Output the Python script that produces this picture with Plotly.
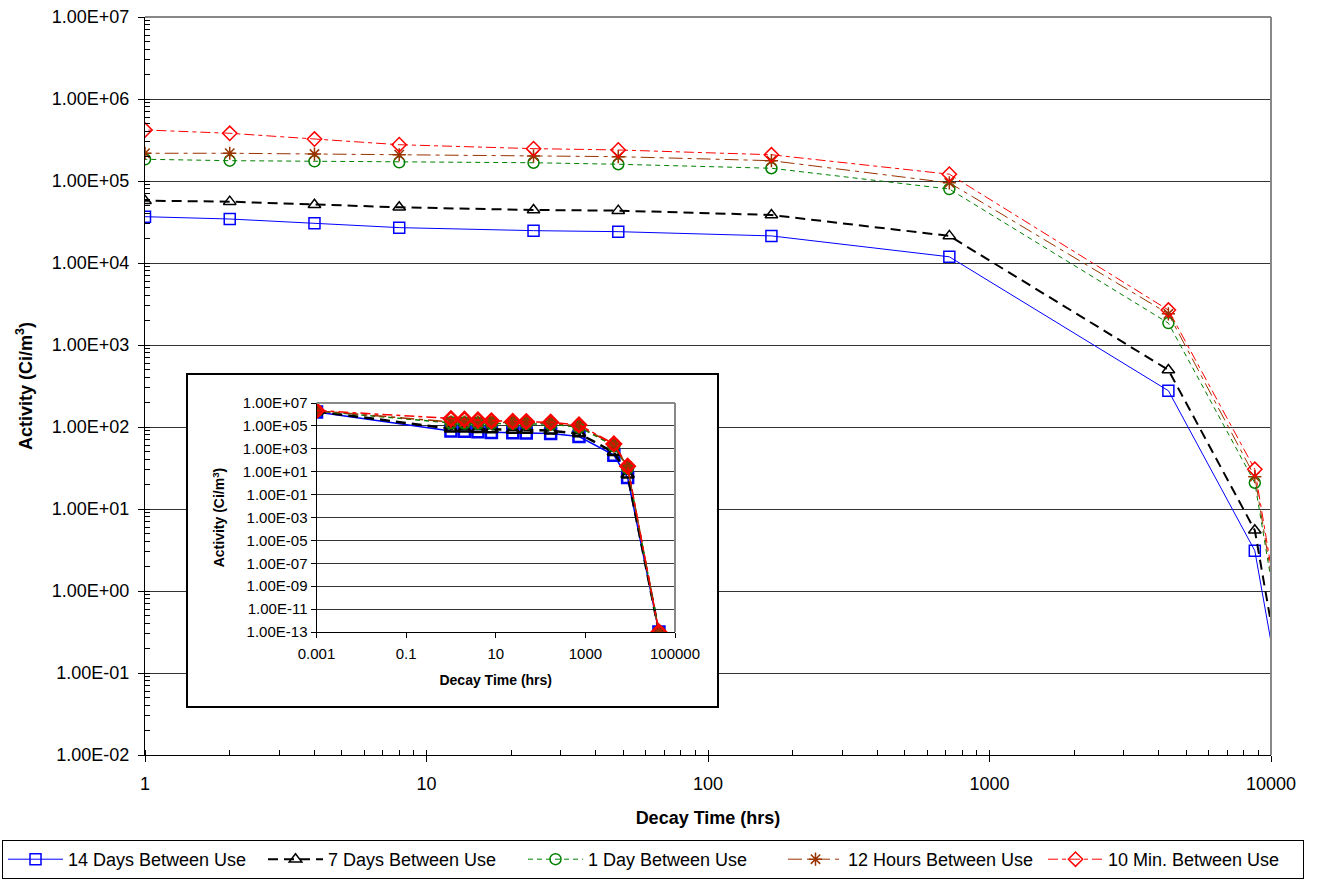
import plotly.graph_objects as go

# ---------------- data ----------------
TIME_HRS = [0.001, 1, 2, 4, 8, 24, 48, 168, 720, 4320, 8760, 43800]

DAYS_14 = [1.6e6, 3.67e4, 3.44e4, 3.05e4, 2.70e4, 2.48e4, 2.41e4, 2.14e4, 1.19e4, 277, 3.1, 1e-13]
DAYS_7 = [1.8e6, 5.75e4, 5.6e4, 5.14e4, 4.78e4, 4.43e4, 4.35e4, 3.85e4, 2.14e4, 496, 5.5, 1e-13]
DAY_1 = [2.0e6, 1.84e5, 1.77e5, 1.74e5, 1.69e5, 1.67e5, 1.60e5, 1.43e5, 7.98e4, 1.85e3, 20.9, 1e-13]
HOURS_12 = [2.1e6, 2.18e5, 2.18e5, 2.13e5, 2.09e5, 2.02e5, 1.98e5, 1.77e5, 9.5e4, 2.4e3, 24.8, 1e-13]
MIN_10 = [2.2e6, 4.19e5, 3.82e5, 3.25e5, 2.77e5, 2.48e5, 2.39e5, 2.09e5, 1.21e5, 2.67e3, 30.5, 1e-13]

SERIES_NAMES = ["14 Days Between Use", "7 Days Between Use", "1 Day Between Use",
                "12 Hours Between Use", "10 Min. Between Use"]

MAIN_X_TICKS = [1, 10, 100, 1000, 10000]
MAIN_X_LABELS = ["1", "10", "100", "1000", "10000"]
MAIN_Y_TICKS = [1e7, 1e6, 1e5, 1e4, 1e3, 1e2, 1e1, 1e0, 1e-1, 1e-2]
MAIN_Y_LABELS = ["1.00E+07", "1.00E+06", "1.00E+05", "1.00E+04", "1.00E+03",
                 "1.00E+02", "1.00E+01", "1.00E+00", "1.00E-01", "1.00E-02"]

INSET_X_TICKS = [0.001, 0.1, 10, 1000, 100000]
INSET_X_LABELS = ["0.001", "0.1", "10", "1000", "100000"]
INSET_Y_TICKS = [1e7, 1e5, 1e3, 1e1, 1e-1, 1e-3, 1e-5, 1e-7, 1e-9, 1e-11, 1e-13]
INSET_Y_LABELS = ["1.00E+07", "1.00E+05", "1.00E+03", "1.00E+01", "1.00E-01", "1.00E-03",
                  "1.00E-05", "1.00E-07", "1.00E-09", "1.00E-11", "1.00E-13"]

# ---------------- styles ----------------
STYLES = [
    dict(color="#0000FF", width=1, dash="solid", symbol="square-open"),
    dict(color="#000000", width=2, dash="10px,6px", symbol="triangle-up-open"),
    dict(color="#008000", width=1, dash="5px,4px", symbol="circle-open"),
    dict(color="#993300", width=1, dash="14px,5px,4px,5px", symbol="asterisk-open"),
    dict(color="#FF0000", width=1, dash="10px,4px,4px,4px", symbol="diamond-open"),
]
SERIES = [DAYS_14, DAYS_7, DAY_1, HOURS_12, MIN_10]

FONT = "Arial, Liberation Sans, sans-serif"

fig = go.Figure()

# main chart traces
for name, vals, st in zip(SERIES_NAMES, SERIES, STYLES):
    fig.add_trace(go.Scatter(
        x=TIME_HRS, y=vals, name=name, mode="lines+markers",
        line=dict(color=st["color"], width=st["width"], dash=st["dash"]),
        marker=dict(symbol=st["symbol"], size=11, color=st["color"],
                    line=dict(color=st["color"], width=1.5)),
        xaxis="x", yaxis="y",
    ))

# white cover behind inset (hides main grid lines)
fig.add_trace(go.Scatter(
    x=[0, 1, 1, 0, 0], y=[0, 0, 1, 1, 0], fill="toself", fillcolor="white",
    line=dict(width=0, color="white"), mode="lines", showlegend=False,
    hoverinfo="skip", xaxis="x2", yaxis="y2",
))

# inset traces
for name, vals, st in zip(SERIES_NAMES, SERIES, STYLES):
    fig.add_trace(go.Scatter(
        x=TIME_HRS, y=vals, name=name, mode="lines+markers", showlegend=False,
        line=dict(color=st["color"], width=st["width"] + 0.5, dash=st["dash"]),
        marker=dict(symbol=st["symbol"], size=11, color=st["color"],
                    line=dict(color=st["color"], width=2.5)),
        xaxis="x3", yaxis="y3",
    ))

W, H = 1319, 880
ML, MR, MT, MB = 145, 0, 17, 125
PLOT_RIGHT = 1271
PW, PH = W - ML - MR, H - MT - MB


def px_x(p):
    return (p - ML) / PW


def px_y(p):
    return (H - MB - p) / PH


main_x = [0, px_x(PLOT_RIGHT)]
cover_x = [px_x(187), px_x(718)]
cover_y = [px_y(707), px_y(374)]
inset_x = [px_x(316.5), px_x(675)]
inset_y = [px_y(632), px_y(403)]

fig.update_layout(
    width=W, height=H,
    margin=dict(l=ML, r=MR, t=MT, b=MB, autoexpand=False),
    paper_bgcolor="white", plot_bgcolor="white",
    font=dict(family=FONT, size=18, color="black"),
    showlegend=True,
    legend=dict(
        orientation="h", x=px_x(2), y=px_y(840), xanchor="left", yanchor="top",
        bordercolor="black", borderwidth=1, bgcolor="white",
        font=dict(family=FONT, size=18, color="black"),
        itemwidth=55, entrywidth=190, entrywidthmode="pixels",
        traceorder="normal", tracegroupgap=0,
    ),
    xaxis=dict(
        domain=main_x,
        type="log", range=[0, 4], tickmode="array", tickvals=MAIN_X_TICKS,
        ticktext=MAIN_X_LABELS, ticks="outside", ticklen=6, tickcolor="black",
        showline=True, linecolor="black", linewidth=1, showgrid=False, zeroline=False,
        automargin=False, ticklabelstandoff=6,
        minor=dict(ticks="inside", ticklen=5, tickcolor="black", dtick="D1", showgrid=False),
        title=dict(text="<b>Decay Time (hrs)</b>", standoff=18,
                   font=dict(family=FONT, size=18)),
        tickfont=dict(family=FONT, size=18),
    ),
    yaxis=dict(
        type="log", range=[-2, 7], tickmode="array", tickvals=MAIN_Y_TICKS,
        ticktext=MAIN_Y_LABELS, ticks="outside", ticklen=6, tickcolor="black",
        showline=True, linecolor="black", linewidth=1, showgrid=True,
        gridcolor="#333333", gridwidth=1, zeroline=False, automargin=False,
        ticklabelstandoff=5,
        minor=dict(ticks="inside", ticklen=5, tickcolor="black", dtick="D1", showgrid=False),
        title=dict(text="<b>Activity (Ci/m<sup>3</sup>)</b>", standoff=14,
                   font=dict(family=FONT, size=18)),
        tickfont=dict(family=FONT, size=18),
    ),
    xaxis2=dict(domain=cover_x, range=[0, 1], visible=False, fixedrange=True, automargin=False),
    yaxis2=dict(domain=cover_y, range=[0, 1], visible=False, fixedrange=True, anchor="x2",
                automargin=False),
    xaxis3=dict(
        domain=inset_x, anchor="y3", type="log", range=[-3, 5], tickmode="array",
        tickvals=INSET_X_TICKS, ticktext=INSET_X_LABELS, ticks="outside", ticklen=5,
        tickcolor="black", showline=True, linecolor="black", showgrid=False, zeroline=False,
        automargin=False, ticklabelstandoff=3,
        tickfont=dict(family=FONT, size=15),
        title=dict(text="<b>Decay Time (hrs)</b>", standoff=14, font=dict(family=FONT, size=14)),
    ),
    yaxis3=dict(
        domain=inset_y, anchor="x3", type="log", range=[-13, 7], tickmode="array",
        tickvals=INSET_Y_TICKS, ticktext=INSET_Y_LABELS, ticks="outside", ticklen=5,
        tickcolor="black", showline=True, linecolor="black", showgrid=True,
        gridcolor="#333333", zeroline=False, automargin=False,
        tickfont=dict(family=FONT, size=15),
        title=dict(text="<b>Activity (Ci/m<sup>3</sup>)</b>", standoff=14,
                   font=dict(family=FONT, size=14)),
    ),
    shapes=[
        # main plot area top/right border
        dict(type="line", xref="x domain", yref="y domain", x0=0, x1=1, y0=1, y1=1,
             line=dict(color="#888888", width=2), layer="above"),
        dict(type="line", xref="x domain", yref="y domain", x0=1, x1=1, y0=0, y1=1,
             line=dict(color="#888888", width=2), layer="above"),
        # inset frame
        dict(type="rect", xref="paper", yref="paper", x0=cover_x[0], x1=cover_x[1],
             y0=cover_y[0], y1=cover_y[1], line=dict(color="black", width=2),
             fillcolor="rgba(0,0,0,0)", layer="above"),
        # inset plot area top/right border
        dict(type="line", xref="x3 domain", yref="y3 domain", x0=0, x1=1, y0=1, y1=1,
             line=dict(color="#888888", width=2), layer="above"),
        dict(type="line", xref="x3 domain", yref="y3 domain", x0=1, x1=1, y0=0, y1=1,
             line=dict(color="#888888", width=2), layer="above"),
    ],
)

fig.write_html("out.html", config={"displayModeBar": False},
               post_script="document.body.style.margin='0';")
